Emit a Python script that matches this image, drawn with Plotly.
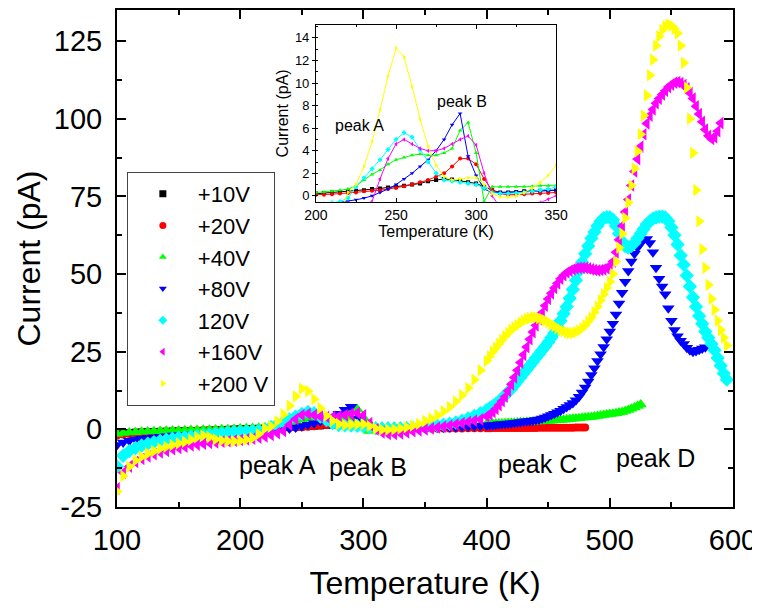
import plotly.graph_objects as go

# temperature sampling: 5 K steps up to 395 K, 2.5 K steps from 400 K
temp_lo = list(range(100, 400, 5))
temp_hi = [400 + 2.5 * i for i in range(79)]

# +10V (100-350 K)
cur_10v = [-1.5, -1.2, -1.0, -0.9, -0.8, -0.75, -0.7, -0.65, -0.6, -0.55,
           -0.5, -0.45, -0.4, -0.35, -0.3, -0.25, -0.2, -0.1, 0.0, 0.1,
           0.2, 0.25, 0.3, 0.35, 0.4, 0.45, 0.5, 0.6, 0.65, 0.75,
           0.8, 0.9, 1.0, 1.1, 1.3, 1.4, 1.5, 1.45, 1.35, 1.2,
           1.1, 0.8, 0.5, 0.3, 0.3, 0.35, 0.4, 0.4, 0.45, 0.5,
           0.5]

# +20V (100-480 K)
cur_20v = [-2.0, -1.7, -1.5, -1.3, -1.1, -1.0, -0.9, -0.8, -0.7, -0.6,
           -0.5, -0.45, -0.4, -0.35, -0.3, -0.25, -0.2, -0.15, -0.1, -0.05,
           0.1, 0.1, 0.15, 0.2, 0.25, 0.3, 0.4, 0.45, 0.5, 0.6,
           0.7, 0.85, 1.0, 1.2, 1.4, 1.7, 2.0, 2.6, 3.3, 3.3,
           2.8, 1.5, 0.5, 0.2, 0.1, 0.1, 0.15, 0.2, 0.2, 0.25,
           0.3, 0.3, 0.3, 0.3, 0.3, 0.3, 0.3, 0.35, 0.35, 0.35,
           0.35, 0.35, 0.4, 0.4, 0.4, 0.4, 0.4, 0.4, 0.4, 0.4,
           0.4, 0.42, 0.45, 0.45, 0.45, 0.45, 0.45, 0.48, 0.5, 0.5,
           0.5, 0.5, 0.5, 0.5, 0.5, 0.52, 0.55, 0.55, 0.55, 0.58,
           0.6, 0.6, 0.6]

# +40V (100-525 K)
cur_40v = [-1.5, -1.2, -1.0, -0.9, -0.8, -0.7, -0.6, -0.5, -0.45, -0.4,
           -0.35, -0.3, -0.25, -0.2, -0.15, -0.1, -0.05, 0.0, 0.05, 0.1,
           0.3, 0.35, 0.4, 0.5, 0.6, 0.9, 1.4, 1.9, 2.3, 2.8,
           3.2, 3.4, 3.6, 3.7, 3.6, 3.6, 3.8, 4.2, 5.8, 6.5,
           3.8, -0.5, 0.8, 0.8, 0.8, 0.8, 0.8, 0.85, 0.9, 0.9,
           0.9, 0.95, 1.0, 1.05, 1.1, 1.2, 1.3, 1.4, 1.5, 1.6,
           1.7, 1.75, 1.8, 1.85, 1.9, 1.95, 2.0, 2.05, 2.1, 2.15,
           2.2, 2.25, 2.3, 2.35, 2.4, 2.45, 2.5, 2.55, 2.6, 2.65,
           2.7, 2.8, 2.9, 2.95, 3.0, 3.1, 3.2, 3.3, 3.4, 3.5,
           3.6, 3.7, 3.8, 3.9, 4.0, 4.15, 4.3, 4.45, 4.6, 4.75,
           4.9, 5.0, 5.2, 5.4, 5.6, 5.9, 6.2, 6.6, 7.0, 7.5,
           8.0]

# +80V (100-577.5 K)
cur_80v = [-5.0, -4.2, -3.7, -3.3, -3.0, -2.8, -2.6, -2.4, -2.2, -2.0,
           -1.9, -1.8, -1.7, -1.6, -1.5, -1.4, -1.3, -1.2, -1.1, -1.0,
           -0.9, -0.8, -0.7, -0.6, -0.5, -0.35, -0.2, 0.0, 0.3, 0.6,
           1.0, 1.5, 2.0, 2.6, 3.2, 4.0, 5.0, 6.3, 7.3, 3.5,
           1.8, 0.6, 0.3, 0.3, 0.3, 0.35, 0.4, 0.4, 0.4, 0.45,
           0.5, 0.5, 0.55, 0.6, 0.65, 0.7, 0.8, 0.9, 1.0, 1.1,
           1.2, 1.3, 1.4, 1.5, 1.6, 1.7, 1.8, 1.9, 2.0, 2.1,
           2.2, 2.35, 2.5, 2.6, 2.7, 2.85, 3.0, 3.2, 3.5, 3.8,
           4.2, 4.6, 5.0, 5.5, 6.0, 6.6, 7.2, 7.8, 8.5, 9.4,
           10.5, 11.9, 13.5, 15.4, 17.5, 19.7, 22.0, 24.2, 26.5, 29.0,
           31.5, 34.0, 37.0, 40.5, 44.0, 47.5, 51.0, 54.0, 56.5, 58.5,
           60.0, 61.0, 61.3, 60.0, 57.0, 52.0, 48.5, 46.0, 43.5, 39.0,
           35.0, 32.0, 30.0, 28.5, 27.5, 26.3, 25.5, 25.0, 25.2, 25.6,
           26.0, 26.4]

# 120V (100-595 K)
cur_120v = [-12.0, -8.5, -7.0, -6.0, -5.2, -4.6, -4.1, -3.7, -3.3, -3.0,
            -2.7, -2.5, -2.3, -2.1, -1.9, -1.7, -1.5, -1.3, -1.1, -0.9,
            -0.8, -0.7, -0.6, -0.5, -0.2, 0.8, 1.6, 2.4, 3.2, 4.1,
            5.0, 5.6, 5.2, 4.1, 3.0, 2.0, 1.4, 1.3, 1.2, 1.1,
            1.0, 0.7, 0.3, 0.2, 0.2, 0.25, 0.3, 0.4, 0.5, 0.6,
            0.8, 1.0, 1.2, 1.5, 1.8, 2.2, 2.8, 3.5, 4.3, 5.2,
            6.2, 6.8, 7.5, 8.2, 9.0, 10.0, 11.0, 12.0, 13.0, 14.2,
            15.5, 16.7, 18.0, 19.2, 20.5, 21.7, 23.0, 24.2, 25.5, 26.7,
            28.0, 29.5, 31.0, 33.0, 35.0, 37.2, 39.5, 42.2, 45.0, 48.0,
            51.0, 53.8, 56.5, 59.0, 61.5, 63.5, 65.5, 67.0, 68.0, 68.3,
            68.2, 67.5, 65.5, 63.0, 60.5, 59.0, 58.5, 59.0, 60.0, 61.5,
            63.0, 64.5, 66.0, 67.0, 67.8, 68.2, 68.5, 68.5, 68.2, 67.0,
            65.0, 62.5, 59.5, 56.0, 53.0, 49.5, 46.0, 42.5, 39.5, 36.5,
            34.0, 31.5, 29.5, 27.5, 25.5, 23.0, 20.5, 18.0, 16.0]

# +160V (100-590 K)
cur_160v = [-19.0, -14.0, -12.0, -10.5, -9.5, -8.7, -8.0, -7.4, -6.9, -6.4,
            -6.0, -5.6, -5.2, -4.9, -4.6, -4.4, -4.2, -4.0, -3.8, -3.6,
            -3.4, -3.2, -3.0, -2.7, -2.3, -1.8, -1.2, -0.5, 1.5, 3.3,
            4.6, 5.0, 4.6, 4.2, 4.0, 4.0, 4.2, 4.6, 5.0, 5.3,
            4.5, 2.0, 0.0, -1.0, -1.5, -1.5, -1.3, -1.0, -0.6, -0.3,
            0.0, 0.3, 0.6, 0.9, 1.2, 1.6, 2.0, 2.4, 2.8, 3.2,
            4.2, 4.8, 5.6, 6.6, 7.8, 9.1, 10.5, 12.4, 14.5, 16.7,
            19.0, 21.5, 24.0, 26.5, 29.0, 31.3, 33.5, 35.5, 37.5, 39.8,
            42.0, 43.8, 45.5, 47.0, 48.5, 49.6, 50.5, 51.0, 51.5, 51.8,
            52.0, 52.0, 52.0, 51.8, 51.5, 51.3, 51.2, 51.3, 51.5, 51.9,
            52.5, 54.0, 57.0, 61.0, 65.5, 70.0, 74.0, 78.5, 83.0, 87.0,
            91.0, 95.0, 98.5, 101.0, 103.0, 105.0, 106.5, 107.8, 109.0, 110.2,
            111.0, 111.6, 111.8, 111.5, 110.8, 109.8, 108.3, 106.5, 104.0, 101.5,
            99.0, 96.5, 94.5, 93.5, 94.0, 96.0, 98.6]

# +200V (100-595 K)
cur_200v = [-20.0, -15.0, -12.0, -10.0, -8.8, -7.8, -7.0, -6.2, -5.6, -5.0,
            -4.5, -4.0, -3.3, -2.5, -2.0, -2.5, -3.2, -3.6, -3.8, -3.8,
            -3.6, -3.3, -2.8, -1.5, 0.3, 1.0, 2.6, 4.8, 7.6, 10.6,
            13.1, 12.3, 9.7, 6.8, 4.4, 2.7, 1.7, 1.4, 1.5, 1.6,
            1.6, 1.0, 0.2, -0.1, -0.1, 0.0, 0.3, 0.7, 1.2, 1.8,
            2.7, 3.5, 4.5, 5.8, 7.2, 9.0, 11.0, 13.3, 16.0, 19.0,
            22.0, 23.5, 25.0, 26.3, 27.5, 28.8, 30.0, 31.0, 32.0, 32.8,
            33.5, 34.3, 35.0, 35.5, 35.8, 36.0, 36.0, 35.8, 35.5, 35.0,
            34.5, 33.8, 33.2, 32.6, 32.0, 31.6, 31.2, 31.0, 31.0, 31.3,
            31.8, 32.5, 33.5, 34.7, 36.0, 37.7, 39.5, 41.5, 43.5, 45.5,
            47.5, 50.0, 54.0, 58.5, 63.0, 68.0, 73.0, 78.5, 84.0, 89.5,
            95.0, 101.0, 107.5, 114.0, 119.0, 123.5, 126.5, 128.5, 129.8, 130.3,
            130.0, 129.0, 127.5, 123.5, 118.0, 110.0, 100.0, 89.0, 77.0, 67.0,
            58.0, 52.0, 46.5, 42.0, 38.5, 35.0, 32.0, 29.5, 27.0]

series = [
    ("+10V", cur_10v, "#000000", "square", 7),
    ("+20V", cur_20v, "#ff0000", "circle", 8),
    ("+40V", cur_40v, "#00ff00", "triangle-up", 11),
    ("+80V", cur_80v, "#0000ff", "triangle-down", 11),
    ("120V", cur_120v, "#00ffff", "diamond", 11),
    ("+160V", cur_160v, "#ff00ff", "triangle-left", 11),
    ("+200 V", cur_200v, "#ffff00", "triangle-right", 11),
]

# tick labels (hyphen minus, as in the original figure)
y_ticks = [-25, 0, 25, 50, 75, 100, 125]
y_labels = ["-25", "0", "25", "50", "75", "100", "125"]

FONT = "Arial, Liberation Sans, sans-serif"

fig = go.Figure()

for name, vals, color, symbol, size in series:
    temps = (temp_lo + temp_hi)[:len(vals)]

    # main panel: dense markers only
    fig.add_trace(go.Scatter(
        x=temps, y=vals, mode="markers", name=name, showlegend=False,
        marker=dict(symbol=symbol, size=size, color=color, line=dict(width=0)),
        xaxis="x", yaxis="y"
    ))

    # inset: same data, line + small markers
    fig.add_trace(go.Scatter(
        x=temps, y=vals, mode="lines+markers", name=name, showlegend=False,
        line=dict(color=color, width=1),
        marker=dict(symbol=symbol, size=4, color=color, line=dict(width=0)),
        xaxis="x2", yaxis="y2"
    ))

# legend entries with small symbols
for name, vals, color, symbol, size in series:
    fig.add_trace(go.Scatter(
        x=[None], y=[None], mode="markers", name=name,
        marker=dict(symbol=symbol, size=7, color=color),
        xaxis="x", yaxis="y"
    ))

axis_font = dict(family=FONT, size=29, color="black")
tick_style = dict(tickwidth=1.5, tickcolor="black")

fig.update_layout(
    template="none",
    width=752, height=600,
    margin=dict(l=109, r=27, t=2, b=101),
    paper_bgcolor="white", plot_bgcolor="white",
    font=dict(family=FONT, color="black"),
    xaxis=dict(
        range=[100, 600], tick0=100, dtick=100, automargin=False,
        ticks="inside", ticklen=9, **tick_style, mirror="ticks",
        minor=dict(ticks="inside", ticklen=5, dtick=50, tick0=100, **tick_style),
        ticklabelstandoff=6,
        showline=True, linewidth=2, linecolor="black",
        showgrid=False, zeroline=False, tickfont=axis_font,
        title=dict(text="Temperature (K)", font=dict(family=FONT, size=32), standoff=17),
    ),
    yaxis=dict(
        range=[-25, 135], tickvals=y_ticks, ticktext=y_labels, automargin=False,
        ticks="inside", ticklen=9, **tick_style, mirror="ticks",
        minor=dict(ticks="inside", ticklen=5, dtick=12.5, tick0=-25, **tick_style),
        ticklabelstandoff=7,
        showline=True, linewidth=2, linecolor="black",
        showgrid=False, zeroline=False, tickfont=axis_font,
        title=dict(text="Current (pA)", font=dict(family=FONT, size=32), standoff=4),
    ),
    # inset axes
    xaxis2=dict(
        domain=[0.323, 0.713], anchor="y2", range=[200, 350], tick0=200, dtick=50,
        automargin=False,
        ticks="inside", ticklen=4, tickcolor="black", mirror="ticks",
        minor=dict(ticks="inside", ticklen=2, tickcolor="black", dtick=25),
        showline=True, linewidth=1, linecolor="black",
        showgrid=False, zeroline=False, tickfont=dict(family=FONT, size=14),
        title=dict(text="Temperature (K)", font=dict(family=FONT, size=16), standoff=4),
    ),
    yaxis2=dict(
        domain=[0.614, 0.970], anchor="x2", range=[-0.53, 15.15], tick0=0, dtick=2,
        automargin=False,
        ticks="outside", ticklen=3, tickcolor="black", mirror=True,
        minor=dict(ticks="inside", ticklen=2, tickcolor="black", dtick=1),
        showline=True, linewidth=1, linecolor="black",
        showgrid=False, zeroline=False, tickfont=dict(family=FONT, size=13),
        title=dict(text="Current (pA)", font=dict(family=FONT, size=16), standoff=2),
    ),
    legend=dict(
        x=0.016, y=0.674, xanchor="left", yanchor="top",
        bgcolor="white", bordercolor="#444444", borderwidth=1,
        font=dict(family=FONT, size=22, color="black"),
        itemsizing="trace", itemwidth=60,
    ),
)

# peak labels
peak_text = ["peak A", "peak B", "peak C", "peak D"]
peak_x = [230, 304, 441, 537]
peak_y = [-11.5, -12.1, -11.2, -9.2]
for txt, px_, py_ in zip(peak_text, peak_x, peak_y):
    fig.add_annotation(x=px_, y=py_, xref="x", yref="y", text=txt, showarrow=False,
                       font=dict(family=FONT, size=25, color="black"))

inset_text = ["peak A", "peak B"]
inset_x = [227, 291]
inset_y = [6.2, 8.4]
for txt, px_, py_ in zip(inset_text, inset_x, inset_y):
    fig.add_annotation(x=px_, y=py_, xref="x2", yref="y2", text=txt, showarrow=False,
                       font=dict(family=FONT, size=16, color="black"))

fig.write_html("out.html")
